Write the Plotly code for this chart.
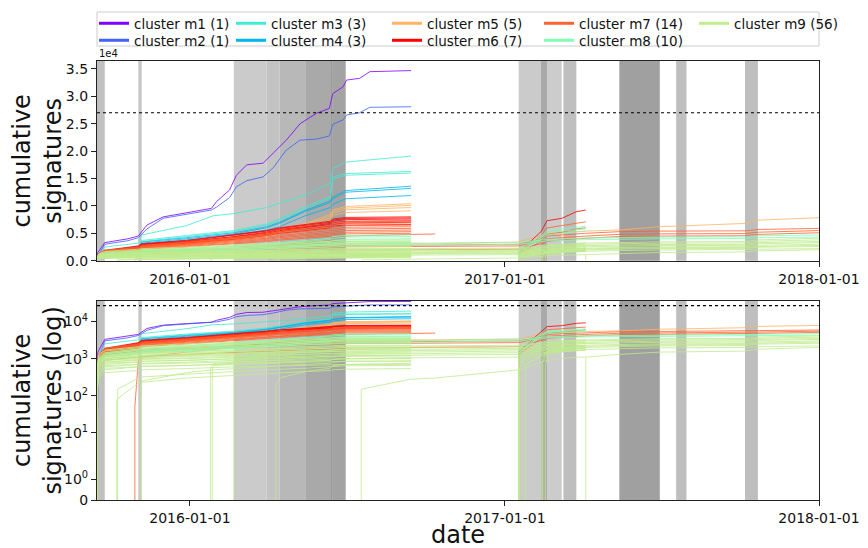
import math
import plotly.graph_objects as go

# ---------------- data ----------------
X_RANGE = ["2015-09-15", "2018-01-01"]
X_TICKS = ["2016-01-01", "2017-01-01", "2018-01-01"]
Y_TOP_MAX = 36450
THRESHOLD = 27000
Y_TICKS_TOP = [0, 5000, 10000, 15000, 20000, 25000, 30000, 35000]
Y_TICKTEXT_TOP = ["0.0", "0.5", "1.0", "1.5", "2.0", "2.5", "3.0", "3.5"]
Y_TICKS_LOG = [0, 1, 10, 100, 1000, 10000]
Y_TICKTEXT_LOG = ["0", "10<sup>0</sup>", "10<sup>1</sup>", "10<sup>2</sup>", "10<sup>3</sup>", "10<sup>4</sup>"]

CLUSTERS = ["cluster m1 (1)", "cluster m2 (1)", "cluster m3 (3)", "cluster m4 (3)", "cluster m5 (5)",
            "cluster m6 (7)", "cluster m7 (14)", "cluster m8 (10)", "cluster m9 (56)"]
COLORS = ["#8000ff", "#4062fa", "#40ecd4", "#00b5eb", "#ffb462", "#ff0000", "#ff6232", "#80ffb4", "#c0ec8e"]

# shaded periods
SPAN_START = ["2015-09-15", "2015-11-02", "2016-02-21", "2016-03-30", "2016-04-14", "2016-05-14", "2016-06-12",
              "2016-06-15", "2017-01-17", "2017-02-12", "2017-02-19", "2017-03-10", "2017-05-14", "2017-07-19",
              "2017-10-07"]
SPAN_END = ["2015-09-24", "2015-11-06", "2016-03-30", "2016-04-14", "2016-05-14", "2016-06-12", "2016-06-15",
            "2016-06-30", "2017-02-12", "2017-02-19", "2017-03-08", "2017-03-25", "2017-06-30", "2017-07-31",
            "2017-10-22"]
SPAN_GRAY = ["#c0c0c0", "#c8c8c8", "#cbcbcb", "#c3c3c3", "#b8b8b8", "#a9a9a9", "#999999", "#a3a3a3",
             "#cbcbcb", "#aaaaaa", "#cccccc", "#bfbfbf", "#a0a0a0", "#bfbfbf", "#bfbfbf"]

# shared sampling dates
GRID = ["2015-09-17", "2015-09-24", "2015-11-02", "2015-11-06", "2015-12-28", "2016-01-28", "2016-02-21",
        "2016-03-30", "2016-04-14", "2016-05-14", "2016-06-12", "2016-06-15", "2016-06-30", "2016-09-14",
        "2016-10-12", "2017-01-17", "2017-02-12", "2017-02-19", "2017-03-08", "2017-03-25", "2017-04-05",
        "2017-05-14", "2017-06-30", "2017-10-07", "2017-10-22", "2018-01-01"]

M1_DATES = ["2015-09-15", "2015-09-16", "2015-09-24", "2015-10-21", "2015-11-02", "2015-11-12", "2015-12-01",
            "2015-12-28", "2016-01-26", "2016-02-01", "2016-02-16", "2016-02-24", "2016-03-07", "2016-03-26",
            "2016-04-07", "2016-04-22", "2016-05-08", "2016-05-27", "2016-06-11", "2016-06-15", "2016-06-27",
            "2016-07-01", "2016-07-16", "2016-07-28", "2016-09-14"]
M1_VALUES = [0, 1500, 3300, 4000, 4500, 6500, 8000, 8800, 9550, 10800, 12900, 15600, 17500, 17800, 19600,
             22000, 25000, 26900, 27800, 30500, 31750, 32970, 33280, 34500, 34700]
M2_VALUES = [0, 900, 3000, 3650, 4200, 5800, 7750, 8500, 9250, 9800, 11500, 13500, 14600, 15300, 17000,
             20200, 22000, 22200, 22750, 24900, 25700, 26600, 27000, 28000, 28100]

# other clusters: each line starts at its start date (rising from 0), then follows GRID dates
M3_START = ["2015-09-15", "2015-09-15", "2015-09-15"]
M3_VALUES = [
    [500, 1200, 2500, 3200, 4700, 6400, 8200, 8600, 9700, 10500, 12000, 14100, 16800, 18000, 19100],
    [400, 900, 1800, 2600, 3700, 4600, 5100, 5500, 6700, 7600, 9900, 11700, 15300, 15900, 16300],
    [380, 850, 1700, 2500, 3500, 4400, 4900, 5300, 6500, 7300, 9500, 11400, 14900, 15600, 16000],
]
M4_START = ["2015-09-15", "2015-09-15", "2015-09-15"]
M4_VALUES = [
    [350, 800, 1700, 2400, 3400, 4200, 4700, 5100, 6200, 7000, 9200, 10900, 11600, 12800, 13600],
    [330, 750, 1600, 2300, 3200, 4000, 4500, 4900, 6000, 6800, 9000, 10600, 11300, 12500, 13200],
    [300, 700, 1500, 2200, 3000, 3800, 4300, 4700, 5600, 6200, 8200, 9700, 10300, 11300, 11900],
]
M5_START = ["2015-09-15", "2015-09-15", "2015-09-15", "2015-09-15", "2015-09-15"]
M5_VALUES = [
    [400, 1100, 1600, 2300, 2600, 3100, 3600, 4100, 5100, 5700, 6800, 8400, 9300, 9900, 10400],
    [380, 1050, 1550, 2200, 2500, 3000, 3500, 4000, 5000, 5600, 6600, 8100, 9000, 9600, 10100],
    [360, 1000, 1500, 2100, 2400, 2900, 3400, 3850, 4800, 5400, 6300, 7800, 8700, 9300, 9700],
    [340, 950, 1400, 2000, 2300, 2800, 3200, 3650, 4500, 5100, 6000, 7400, 8300, 8800, 9100],
    [300, 900, 1300, 1700, 1800, 2000, 2200, 2300, 2500, 2600, 2800, 3000, 3050, 3100, 3200, 3200, 3400,
     4500, 4900, 5100, 5300, 5400, 5600, 6200, 6800, 7400, 7850],
]
M6_START = ["2015-09-15", "2015-09-15", "2015-09-15", "2015-09-15", "2015-09-15", "2015-09-15", "2017-01-17"]
M6_VALUES = [
    [600, 1300, 1900, 2700, 3100, 3700, 4300, 4700, 5500, 6000, 6600, 7200, 7600, 7900, 8000],
    [550, 1200, 1800, 2600, 3000, 3600, 4200, 4600, 5400, 5900, 6400, 7000, 7400, 7700, 7800],
    [520, 1150, 1750, 2500, 2900, 3500, 4000, 4400, 5200, 5700, 6200, 6800, 7200, 7500, 7600],
    [500, 1100, 1700, 2400, 2800, 3400, 3900, 4300, 5000, 5500, 6000, 6600, 6900, 7200, 7300],
    [480, 1050, 1600, 2300, 2700, 3300, 3800, 4100, 4800, 5300, 5800, 6300, 6600, 6900, 7000],
    [450, 1000, 1500, 2200, 2600, 3200, 3600, 3900, 4600, 5000, 5500, 6000, 6300, 6500, 6600],
    [1500, 5300, 7300, 7730, 8940, 9250],
]
M7_START = ["2015-09-15"] * 8 + ["2015-10-29", "2015-09-15", "2015-09-15", "2015-09-15", "2017-01-17", "2017-01-17"]
M7_VALUES = [
    [500, 1300, 1900, 2500, 2800, 3400, 3900, 4200, 4900, 5300, 5800, 6400, 6800, 7100, 7200],
    [480, 1250, 1850, 2400, 2700, 3300, 3800, 4100, 4700, 5100, 5600, 6100, 6500, 6800, 6900],
    [450, 1200, 1750, 2300, 2600, 3100, 3600, 3900, 4500, 4800, 5300, 5800, 6100, 6400, 6500],
    [430, 1150, 1700, 2200, 2500, 3000, 3400, 3700, 4300, 4600, 5000, 5500, 5800, 6100, 6200],
    [400, 1100, 1600, 2100, 2400, 2900, 3300, 3550, 4100, 4400, 4800, 5200, 5500, 5800, 5900],
    [380, 1050, 1500, 2000, 2300, 2750, 3100, 3350, 3900, 4200, 4550, 4950, 5200, 5500, 5600],
    [350, 1000, 1450, 1900, 2200, 2600, 2950, 3200, 3700, 3950, 4300, 4700, 4950, 5200, 5300],
    [330, 950, 1400, 1800, 2100, 2500, 2800, 3050, 3500, 3750, 4100, 4450, 4700, 4900, 5000],
    [50, 900, 1100, 1500, 1800, 2000, 2500, 2800, 3300, 3800, 4200, 4500, 4800, 4870],
    [350, 900, 1300, 1600, 1700, 1900, 2100, 2200, 2400, 2500, 2600, 2700, 2750, 2800, 2850, 2850, 3000,
     4000, 4500, 4700, 4900, 5000, 5300, 5400, 5450, 5700, 5900],
    [300, 800, 1200, 1500, 1550, 1750, 1900, 2000, 2150, 2250, 2350, 2450, 2500, 2550, 2600, 2600, 2700,
     3600, 4000, 4200, 4400, 4500, 4800, 4900, 4950, 5200, 5500],
    [200, 600, 900, 1100, 1150, 1300, 1400, 1500, 1600, 1650, 1750, 1850, 1900, 1950, 2000, 2000, 2100,
     3100, 3500, 3800, 4000, 4100, 4400, 4500, 4550, 4800, 5100],
    [1500, 4500, 6000, 6400, 6900, 7100],
    [1300, 3500, 4800, 5200, 5800, 6000],
]
M8_START = ["2015-09-15"] * 5 + ["2017-01-17"] * 3 + ["2015-09-15"] * 2
M8_VALUES = [
    [400, 1000, 1400, 1800, 1900, 2200, 2500, 2700, 3100, 3300, 3700, 4100, 4400, 4600, 4700],
    [380, 950, 1300, 1700, 1800, 2100, 2400, 2550, 2900, 3100, 3500, 3850, 4100, 4300, 4400],
    [350, 900, 1200, 1550, 1650, 1900, 2150, 2300, 2650, 2800, 3150, 3500, 3700, 3900, 4000],
    [320, 850, 1100, 1400, 1500, 1750, 1950, 2100, 2400, 2550, 2850, 3150, 3350, 3500, 3600],
    [300, 800, 1000, 1300, 1400, 1600, 1800, 1900, 2200, 2300, 2600, 2900, 3100, 3250, 3300],
    [2000, 4500, 5500, 5800, 6100, 6300],
    [1800, 4200, 5100, 5400, 5600, 5800],
    [1600, 3800, 4700, 5000, 5200, 5400],
    [300, 900, 1200, 1500, 1600, 1800, 2000, 2100, 2300, 2400, 2600, 2800, 2900, 3000, 3100, 3100, 3300,
     3700, 3900, 4000, 4100, 4150, 4200, 4300, 4350, 4550, 4700],
    [280, 850, 1100, 1400, 1450, 1650, 1800, 1900, 2100, 2200, 2400, 2550, 2650, 2700, 2800, 2800, 3000,
     3400, 3600, 3700, 3800, 3850, 3900, 4000, 4050, 4200, 4300],
]
M9_START = (["2015-09-15"] * 14 +
            ["2015-10-08", "2015-10-09", "2015-11-05", "2016-01-25", "2016-01-27", "2016-02-21", "2016-04-10",
             "2016-07-18"] +
            ["2015-09-15"] * 8 +
            ["2017-01-17"] * 5 + ["2017-01-18", "2017-01-25", "2017-02-13", "2017-02-14", "2017-02-17",
                                  "2017-04-05"])
M9_VALUES = [
    [500, 1300, 1700, 2100, 2200, 2500, 2700, 2800, 3000, 3100, 3400, 3550, 3650, 3750, 3800],
    [450, 1200, 1600, 1950, 2050, 2300, 2500, 2600, 2800, 2900, 3150, 3300, 3400, 3450, 3500],
    [400, 1100, 1450, 1800, 1900, 2100, 2300, 2400, 2550, 2650, 2850, 3000, 3100, 3150, 3200],
    [380, 1000, 1350, 1650, 1750, 1950, 2100, 2200, 2300, 2400, 2600, 2700, 2800, 2850, 2900],
    [350, 900, 1200, 1500, 1550, 1750, 1900, 2000, 2100, 2200, 2350, 2450, 2500, 2550, 2600],
    [320, 850, 1100, 1350, 1400, 1550, 1700, 1750, 1850, 1950, 2100, 2200, 2250, 2280, 2300],
    [300, 800, 1000, 1200, 1250, 1350, 1450, 1550, 1600, 1700, 1800, 1900, 1950, 1980, 2000],
    [280, 750, 950, 1100, 1150, 1250, 1350, 1400, 1450, 1550, 1650, 1700, 1750, 1780, 1800],
    [250, 700, 900, 1000, 1050, 1150, 1200, 1250, 1300, 1400, 1480, 1520, 1560, 1580, 1600],
    [220, 650, 800, 900, 950, 1000, 1050, 1100, 1150, 1200, 1300, 1340, 1370, 1390, 1400],
    [200, 600, 750, 820, 850, 900, 950, 980, 1000, 1050, 1100, 1150, 1170, 1190, 1200],
    [180, 500, 650, 700, 720, 760, 800, 830, 860, 900, 940, 960, 980, 990, 1000],
    [150, 400, 550, 600, 620, 660, 700, 720, 740, 770, 800, 820, 835, 845, 850],
    [120, 300, 420, 480, 500, 540, 580, 600, 620, 640, 660, 680, 690, 695, 700],
    [80, 220, 230, 300, 330, 350, 400, 420, 450, 480, 500, 520, 540],
    [150, 300, 320, 380, 420, 450, 500, 520, 550, 600, 620, 640, 660],
    [180, 250, 420, 500, 530, 600, 650, 700, 750, 800, 850, 870],
    [600, 750, 800, 900, 950, 1000, 1050, 1100, 1150, 1200],
    [500, 650, 700, 780, 800, 850, 900, 950, 1000, 1050],
    [900, 1200, 1300, 1500, 1600, 1700, 1800, 1900],
    [200, 300, 450, 550, 650, 700, 750],
    [150, 280, 300, 500, 800, 900, 1000, 1100, 1100],
    [300, 900, 1200, 1400, 1450, 1550, 1650, 1700, 1800, 1850, 1950, 2050, 2100, 2150, 2200, 2200, 2300,
     2700, 2900, 3000, 3150, 3200, 3300, 3450, 3500, 3800, 4100],
    [250, 800, 1100, 1300, 1350, 1450, 1500, 1550, 1650, 1700, 1800, 1900, 1950, 2000, 2050, 2050, 2150,
     2500, 2700, 2800, 2950, 3000, 3100, 3200, 3250, 3550, 3800],
    [220, 700, 1000, 1150, 1200, 1300, 1350, 1400, 1450, 1500, 1600, 1650, 1700, 1750, 1800, 1800, 1900,
     2300, 2450, 2550, 2700, 2750, 2850, 2950, 3000, 3300, 3500],
    [200, 650, 900, 1050, 1100, 1200, 1250, 1300, 1350, 1400, 1450, 1500, 1550, 1600, 1650, 1650, 1750,
     2100, 2250, 2350, 2500, 2550, 2650, 2750, 2800, 3100, 3300],
    [180, 600, 800, 950, 1000, 1050, 1100, 1150, 1200, 1250, 1300, 1350, 1400, 1450, 1500, 1500, 1600,
     1900, 2050, 2150, 2250, 2300, 2400, 2500, 2550, 2800, 3000],
    [150, 500, 700, 800, 850, 900, 950, 1000, 1050, 1100, 1150, 1200, 1250, 1300, 1350, 1350, 1450,
     1750, 1900, 2000, 2100, 2150, 2250, 2350, 2400, 2600, 2800],
    [120, 400, 600, 700, 750, 800, 850, 900, 950, 1000, 1050, 1100, 1150, 1200, 1250, 1250, 1300,
     1600, 1750, 1850, 1950, 2000, 2100, 2200, 2250, 2450, 2600],
    [100, 350, 500, 600, 620, 650, 700, 750, 780, 800, 850, 900, 950, 1000, 1050, 1050, 1100,
     1400, 1500, 1600, 1700, 1750, 1850, 1950, 2000, 2100, 2200],
    [1200, 2300, 2700, 2900, 3200, 3300],
    [1000, 2000, 2400, 2600, 2800, 2900],
    [900, 1800, 2100, 2300, 2500, 2600],
    [800, 1500, 1800, 2000, 2200, 2300],
    [700, 1300, 1600, 1800, 1900, 2000],
    [600, 1100, 1400, 1550, 1650, 1700],
    [700, 1200, 1500, 1700, 1800, 1900],
    [900, 1600, 1900, 2100, 2200],
    [800, 1400, 1700, 1850, 1950],
    [600, 1200, 1500, 1650, 1700],
    [1100, 1300, 1500, 1600, 1800, 2000],
]

# ---------------- helpers ----------------
LINTHRESH = 2.0
LINSCALE_ADJ = 1.0 / (1.0 - 1.0 / 10.0)


def symlog(v):
    if v is None:
        return None
    if v <= LINTHRESH:
        return v / LINTHRESH * LINSCALE_ADJ
    return LINSCALE_ADJ + math.log10(v / LINTHRESH)


def line_xy(start, vals):
    after = [g for g in GRID if g > start]
    xs = [start, start] + after[:len(vals) - 1]
    ys = [0] + list(vals)
    return xs, ys


lines = []  # (cluster index, xs, ys)
lines.append((0, M1_DATES, M1_VALUES))
lines.append((1, M1_DATES, M2_VALUES))
for ci, (starts, vals) in enumerate([(M3_START, M3_VALUES), (M4_START, M4_VALUES), (M5_START, M5_VALUES),
                                     (M6_START, M6_VALUES), (M7_START, M7_VALUES), (M8_START, M8_VALUES),
                                     (M9_START, M9_VALUES)], start=2):
    for s, v in zip(starts, vals):
        xs, ys = line_xy(s, v)
        lines.append((ci, xs, ys))

fig = go.Figure()
for ci, xs, ys in lines:
    common = dict(mode="lines", line=dict(color=COLORS[ci], width=1), opacity=0.8,
                  showlegend=False, hoverinfo="skip")
    fig.add_trace(go.Scatter(x=xs, y=ys, xaxis="x", yaxis="y", **common))
    fig.add_trace(go.Scatter(x=xs, y=[symlog(v) for v in ys], xaxis="x2", yaxis="y2", **common))

# legend entries: one small legend per entry, laid out like matplotlib's 5-column legend
LEGEND_IDS = ["legend"] + ["legend%d" % (i + 2) for i in range(len(CLUSTERS) - 1)]
for ci, name in enumerate(CLUSTERS):
    fig.add_trace(go.Scatter(x=[None], y=[None], mode="lines", name=name,
                             line=dict(color=COLORS[ci], width=3), legend=LEGEND_IDS[ci],
                             xaxis="x", yaxis="y"))

# figure is drawn 8px inside the page; geometry below is in figure pixels
FIG_W, FIG_H = 860, 540
ML, MR, MT, MB = 89, 49, 53, 48
PW, PH = FIG_W - ML - MR, FIG_H - MT - MB


def px_x(fx):
    return (fx - ML) / PW


def px_y(fy):
    return (FIG_H - MB - fy) / PH


shapes = []
for s, e, c in zip(SPAN_START, SPAN_END, SPAN_GRAY):
    for xr, yr in (("x", "y domain"), ("x2", "y2 domain")):
        shapes.append(dict(type="rect", xref=xr, yref=yr, x0=s, x1=e, y0=0, y1=1,
                           fillcolor=c, line=dict(width=0), layer="below"))
shapes.append(dict(type="line", xref="x domain", yref="y", x0=0, x1=1, y0=THRESHOLD, y1=THRESHOLD,
                   line=dict(color="black", width=1.2, dash="dot")))
shapes.append(dict(type="line", xref="x2 domain", yref="y2", x0=0, x1=1, y0=symlog(THRESHOLD),
                   y1=symlog(THRESHOLD), line=dict(color="black", width=1.2, dash="dot")))
# legend frame
shapes.append(dict(type="rect", xref="paper", yref="paper", x0=px_x(89), x1=px_x(811), y0=px_y(4),
                   y1=px_y(38), line=dict(color="#cccccc", width=1), fillcolor="rgba(0,0,0,0)"))

axis_common = dict(showline=True, linecolor="#222222", linewidth=1.2, mirror=True, ticks="outside",
                   ticklen=5, tickwidth=1.2, tickcolor="#222222", showgrid=False, zeroline=False,
                   automargin=False, tickfont=dict(size=14, color="#111111"))

legend_common = dict(orientation="v", yanchor="top", xanchor="left", bgcolor="rgba(0,0,0,0)",
                     borderwidth=0, font=dict(size=13.5), itemwidth=30, tracegroupgap=0)
LEGEND_COL_PX = [86, 223, 379, 531, 686]
LEGEND_ROW_PX = [0, 17]
legend_layout = {}
for i, lid in enumerate(LEGEND_IDS):
    legend_layout[lid] = dict(x=px_x(LEGEND_COL_PX[i // 2]), y=px_y(LEGEND_ROW_PX[i % 2]), **legend_common)

fig.update_layout(
    width=FIG_W, height=FIG_H,
    margin=dict(l=ML, r=MR, t=MT, b=MB, autoexpand=False),
    paper_bgcolor="white", plot_bgcolor="white",
    font=dict(family="DejaVu Sans", color="#111111"),
    shapes=shapes,
    xaxis=dict(domain=[0, 1], anchor="y", type="date", range=X_RANGE, tickvals=X_TICKS,
               ticktext=X_TICKS, **axis_common),
    yaxis=dict(domain=[0.5451, 1], anchor="x", range=[0, Y_TOP_MAX], tickvals=Y_TICKS_TOP,
               ticktext=Y_TICKTEXT_TOP,
               title=dict(text="cumulative<br>signatures", font=dict(size=24), standoff=6), **axis_common),
    xaxis2=dict(domain=[0, 1], anchor="y2", type="date", range=X_RANGE, tickvals=X_TICKS,
                ticktext=X_TICKS, **axis_common),
    yaxis2=dict(domain=[0, 0.454], anchor="x2", range=[0, symlog(Y_TOP_MAX)],
                tickvals=[symlog(v) for v in Y_TICKS_LOG], ticktext=Y_TICKTEXT_LOG,
                title=dict(text="cumulative<br>signatures (log)", font=dict(size=24), standoff=6),
                **axis_common),
    annotations=[
        dict(text="1e4", xref="paper", yref="paper", x=0, y=1, xanchor="left", yanchor="bottom",
             showarrow=False, font=dict(size=10)),
        dict(text="date", xref="paper", yref="paper", x=0.5, y=px_y(527), xanchor="center",
             yanchor="middle", showarrow=False, font=dict(size=24)),
    ],
    **legend_layout,
)

fig.write_html("out.html")
